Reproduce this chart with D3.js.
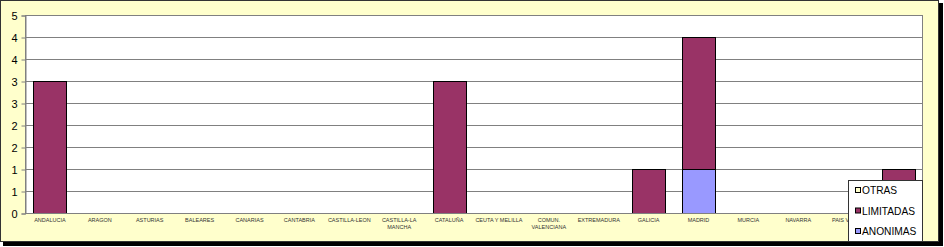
<!DOCTYPE html>
<html><head><meta charset="utf-8">
<script src="https://cdn.jsdelivr.net/npm/d3@7"></script>
<style>body{margin:0;background:#fff}svg{display:block}</style>
</head><body><svg id="c" width="944" height="247"></svg>
<script>
const categories = ["ANDALUCIA","ARAGON","ASTURIAS","BALEARES","CANARIAS","CANTABRIA","CASTILLA-LEON","CASTILLA-LA MANCHA","CATALUÑA","CEUTA Y MELILLA","COMUN. VALENCIANA","EXTREMADURA","GALICIA","MADRID","MURCIA","NAVARRA","PAIS VASCO","LA RIOJA"];
const categoryLines = [["ANDALUCIA"],["ARAGON"],["ASTURIAS"],["BALEARES"],["CANARIAS"],["CANTABRIA"],["CASTILLA-LEON"],["CASTILLA-LA","MANCHA"],["CATALUÑA"],["CEUTA Y MELILLA"],["COMUN.","VALENCIANA"],["EXTREMADURA"],["GALICIA"],["MADRID"],["MURCIA"],["NAVARRA"],["PAIS VASCO"],["LA RIOJA"]];
const anonimas  = [0,0,0,0,0,0,0,0,0,0,0,0,0,1,0,0,0,0];
const limitadas = [3,0,0,0,0,0,0,0,3,0,0,0,1,3,0,0,0,1];
const otras     = [0,0,0,0,0,0,0,0,0,0,0,0,0,0,0,0,0,0];
const seriesNames = ["ANONIMAS","LIMITADAS","OTRAS"];
const seriesColors = ["#9999FF","#993366","#FFFFCC"];
const tickValues = [0,0.5,1,1.5,2,2.5,3,3.5,4,4.5];
const tickLabels = ["0","1","1","2","2","3","3","4","4","5"];
const yMax = 4.5;

const FONT = "Liberation Sans, Arial, sans-serif";
const svg = d3.select("#c");
// outer chart area with shadow
svg.append("rect").attr("x",3).attr("y",3).attr("width",940).attr("height",243).attr("fill","#000");
svg.append("rect").attr("x",0.5).attr("y",0.5).attr("width",938).attr("height",241)
  .attr("fill","#FFFFCC").attr("stroke","#333").attr("stroke-width",1);

const L=25,R=923,T=15,B=213;
const x = d3.scaleBand().domain(categories).range([L,R]).paddingInner(0.34).paddingOuter(0.17);
const y = d3.scaleLinear().domain([0,yMax]).range([B,T]);

svg.append("rect").attr("x",L).attr("y",T).attr("width",R-L).attr("height",B-T).attr("fill","#fff");

// grid
svg.append("g").selectAll("line").data(tickValues.slice(1)).join("line")
  .attr("x1",L).attr("x2",R).attr("y1",d=>Math.round(y(d))+0.5).attr("y2",d=>Math.round(y(d))+0.5)
  .attr("stroke","#808080").attr("stroke-width",1);

// stacked bars
const rows = categories.map((c,i)=>({cat:c, ANONIMAS:anonimas[i], LIMITADAS:limitadas[i], OTRAS:otras[i]}));
const stack = d3.stack().keys(seriesNames)(rows);
svg.append("g").selectAll("g").data(stack).join("g")
  .attr("fill",(d,i)=>seriesColors[i])
  .selectAll("rect").data(d=>d.filter(s=>s[1]-s[0]>0)).join("rect")
  .attr("x",d=>Math.round(x(d.data.cat))+0.5)
  .attr("y",d=>Math.round(y(d[1]))+0.5)
  .attr("width",Math.round(x.bandwidth()))
  .attr("height",d=>Math.round(y(d[0]))-Math.round(y(d[1])))
  .attr("stroke","#000").attr("stroke-width",1);

// plot border
svg.append("rect").attr("x",L+0.5).attr("y",T+0.5).attr("width",R-L-1).attr("height",B-T)
  .attr("fill","none").attr("stroke","#808080");

const yAxis = d3.axisLeft(y).tickValues(tickValues).tickSize(4).tickPadding(4)
  .tickFormat(d=>tickLabels[tickValues.indexOf(d)]);
const gy = svg.append("g").attr("transform",`translate(${L+0.5},0.5)`).call(yAxis);
gy.select(".domain").attr("stroke","#808080");
gy.selectAll(".tick line").attr("stroke","#808080");
gy.selectAll("text").attr("font-family",FONT).attr("font-size",11).attr("fill","#000");

// bottom axis line
svg.append("line").attr("x1",L).attr("x2",R).attr("y1",B+0.5).attr("y2",B+0.5).attr("stroke","#808080");

// category labels
const gx = svg.append("g");
categories.forEach((c,i)=>{
  const t = gx.append("text").attr("x",x(c)+x.bandwidth()/2).attr("y",222)
    .attr("text-anchor","middle").attr("font-family",FONT).attr("font-size",5.5).attr("fill","#333");
  categoryLines[i].forEach((ln,j)=>t.append("tspan").attr("x",x(c)+x.bandwidth()/2).attr("dy",j?6.5:0).text(ln));
});

// legend
const lg = svg.append("g").attr("transform","translate(848,180)");
lg.append("rect").attr("x",0.5).attr("y",0.5).attr("width",74).attr("height",61).attr("fill","#fff").attr("stroke","#333");
const order = [2,1,0];
order.forEach((si,k)=>{
  const yy = 10 + k*20.5;
  lg.append("rect").attr("x",7.5).attr("y",yy-2.5).attr("width",5).attr("height",5)
    .attr("fill",seriesColors[si]).attr("stroke","#000");
  lg.append("text").attr("x",14).attr("y",yy+4).attr("font-family",FONT).attr("font-size",10.2)
    .attr("fill","#000").text(seriesNames[si]);
});
</script>
</body></html>
